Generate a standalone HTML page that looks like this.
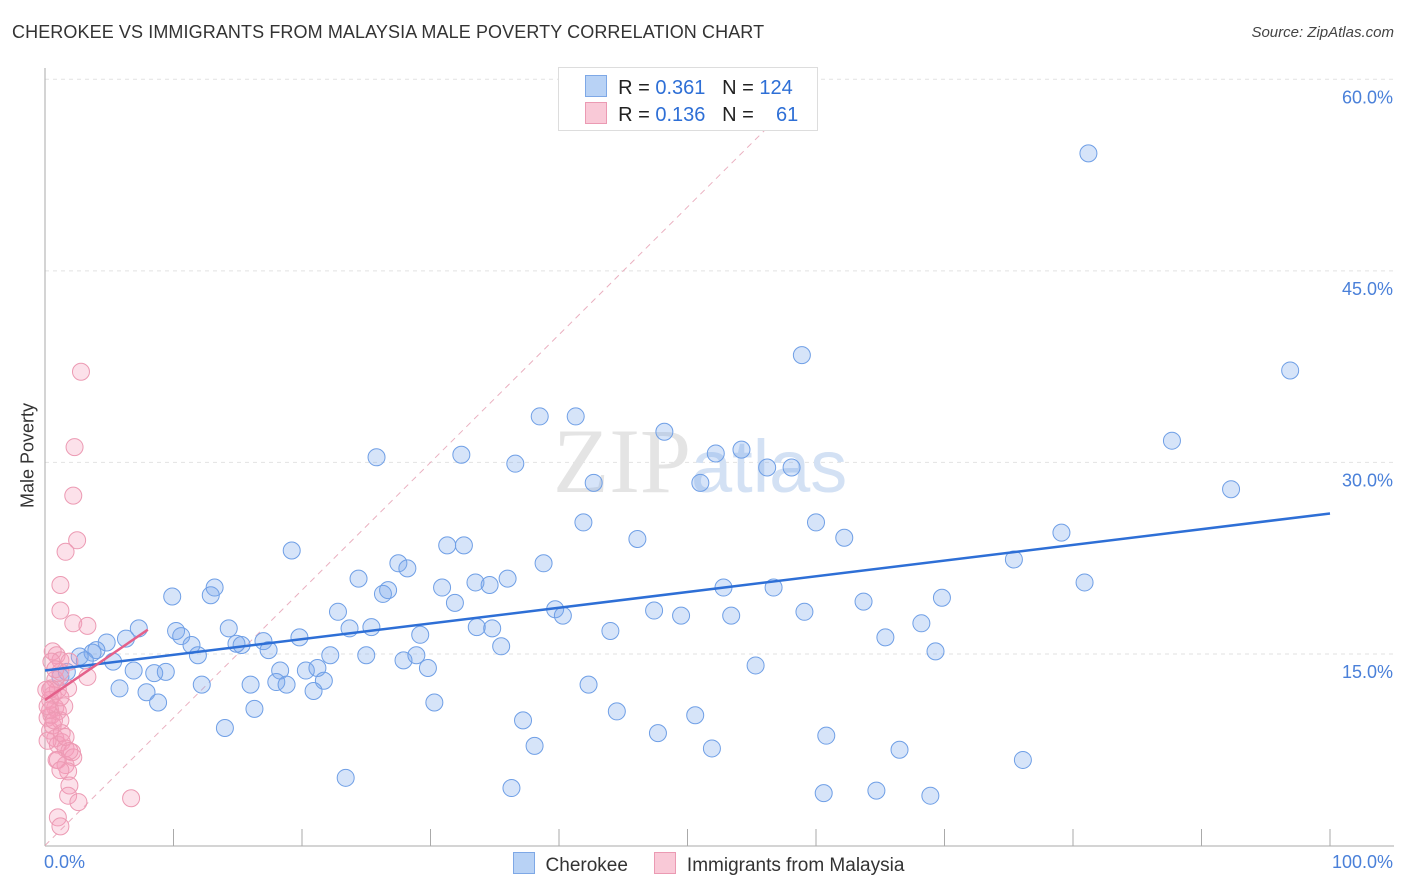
<!DOCTYPE html>
<html><head><meta charset="utf-8"><style>
body{margin:0;background:#fff;font-family:"Liberation Sans",sans-serif}
#wrap{position:relative;width:1406px;height:892px;overflow:hidden}
</style></head><body><div id="wrap">
<svg id="svg" width="1406" height="892" xmlns="http://www.w3.org/2000/svg"></svg>
</div>
<script>
const yTicks=[15,30,45,60];
const yTickLabels=["15.0%","30.0%","45.0%","60.0%"];
const blueX=[81.2,58.9,96.9,38.5,41.3,48.2,87.7,25.8,32.4,54.2,52.2,36.6,56.2,58.1,42.7,51.0,92.3,41.9,60.0,79.1,31.3,32.6,46.1,62.2,19.2,38.8,27.5,28.2,75.4,24.4,33.5,34.6,36.0,30.9,80.9,13.2,26.7,26.3,12.9,9.9,52.8,56.7,31.9,69.8,22.8,39.7,40.3,47.4,49.5,53.4,59.1,63.7,68.2,33.6,34.8,44.0,23.7,25.4,14.3,10.2,10.6,7.3,11.4,14.9,15.3,17.0,17.4,19.8,29.2,35.5,65.4,6.3,4.8,4.0,3.7,11.9,22.2,25.0,27.9,28.9,29.8,69.3,2.7,3.1,5.3,6.9,8.5,9.4,18.3,20.3,21.2,55.3,1.7,1.2,21.7,18.0,18.8,16.0,12.2,5.8,7.9,20.9,42.3,8.8,30.3,16.3,44.5,50.6,37.2,14.0,47.7,60.8,38.1,51.9,66.5,76.1,23.4,36.3,60.6,64.7,68.9];
const blueY=[54.2,38.4,37.2,33.6,33.6,32.4,31.7,30.4,30.6,31.0,30.7,29.9,29.6,29.6,28.4,28.4,27.9,25.3,25.3,24.5,23.5,23.5,24.0,24.1,23.1,22.1,22.1,21.7,22.4,20.9,20.6,20.4,20.9,20.2,20.6,20.2,20.0,19.7,19.6,19.5,20.2,20.2,19.0,19.4,18.3,18.5,18.0,18.4,18.0,18.0,18.3,19.1,17.4,17.1,17.0,16.8,17.0,17.1,17.0,16.8,16.4,17.0,15.7,15.8,15.7,16.0,15.3,16.3,16.5,15.6,16.3,16.2,15.9,15.3,15.1,14.9,14.9,14.9,14.5,14.9,13.9,15.2,14.8,14.5,14.4,13.7,13.5,13.6,13.7,13.7,13.9,14.1,13.6,13.2,12.9,12.8,12.6,12.6,12.6,12.3,12.0,12.1,12.6,11.2,11.2,10.7,10.5,10.2,9.8,9.2,8.8,8.6,7.8,7.6,7.5,6.7,5.3,4.5,4.1,4.3,3.9];
const pinkX=[2.8,2.3,2.2,2.5,1.6,1.2,1.2,2.2,3.3,0.6,0.9,1.2,1.9,3.3,1.2,0.8,0.5,0.6,1.0,1.8,0.4,0.8,0.5,1.0,1.2,0.2,0.6,0.8,1.3,1.0,1.6,2.1,2.2,1.0,1.6,0.9,1.8,1.9,1.8,2.6,1.0,1.2,6.7,0.4,0.4,0.5,0.8,0.4,0.2,1.3,1.6,1.9,1.2,0.1,0.2,0.7,1.5,1.2];
const pinkY=[37.1,31.2,27.4,23.9,23.0,20.4,18.4,17.4,17.2,15.2,14.9,14.5,14.4,13.2,13.6,13.0,12.3,11.8,12.2,12.3,11.4,10.8,10.2,10.5,9.8,10.0,9.4,8.4,8.1,7.9,7.6,7.3,6.9,6.7,6.3,6.7,5.8,4.7,3.9,3.4,2.2,1.5,3.7,9.0,10.6,14.4,13.8,12.2,8.2,8.8,8.5,7.4,5.9,12.2,10.9,9.8,10.9,11.6];
const blueTrend=[13.7,26.0];
const pinkTrend=[11.4,16.9,8];
const NS="http://www.w3.org/2000/svg";
const svg=document.getElementById('svg');
const X0=45,X1=1330,Y0=845.5,YPER=12.77;
const sx=v=>X0+(X1-X0)*v/100;
const sy=v=>Y0-v*YPER;
function el(t,a,p){const e=document.createElementNS(NS,t);for(const k in a)e.setAttribute(k,a[k]);(p||svg).appendChild(e);return e;}
yTicks.forEach((t,i)=>{
 const g=el('line',{x1:45,x2:1394,y1:sy(t),y2:sy(t),stroke:'#e2e2e2','stroke-dasharray':'4,4'});
 
 
 const tx=el('text',{x:1393,y:sy(t)+24,'text-anchor':'end','font-size':18,fill:'#4a80d9'});
 tx.textContent=yTickLabels[i];
 
 
});
const ax=el('line',{x1:45,x2:45,y1:68,y2:846,stroke:'#aaa'});


const bx=el('line',{x1:45,x2:1394,y1:846,y2:846,stroke:'#aaa'});


for(let i=1;i<=10;i++){const t=el('line',{x1:sx(i*10),x2:sx(i*10),y1:829,y2:846,stroke:'#aaa'});
 
 }
const wm=el('text',{x:553,y:492,'font-size':92,'font-family':'Liberation Serif,serif',fill:'#e4e4e4'});
wm.innerHTML='ZIP<tspan fill="#d3e1f4" font-family="Liberation Sans,sans-serif" font-size="74">atlas</tspan>';


const dg=el('line',{x1:sx(0),y1:sy(0),x2:sx(57),y2:sy(57),stroke:'#eab0c0','stroke-dasharray':'6,5','stroke-width':1});


function pts(xs,ys,fill,stroke,name){xs.forEach((x,i)=>{const c=el('circle',{cx:sx(x),cy:sy(ys[i]),r:8.5,fill:fill,stroke:stroke,'stroke-width':1});
 
 });}
pts(blueX,blueY,'rgba(120,165,235,0.3)','#6f9fe6','cherokee-point');
pts(pinkX,pinkY,'rgba(245,155,185,0.3)','#ec9ab3','malaysia-point');
const bl=el('line',{x1:sx(0),y1:sy(blueTrend[0]),x2:sx(100),y2:sy(blueTrend[1]),stroke:'#2e6fd6','stroke-width':2.5});


const pl=el('line',{x1:sx(0),y1:sy(pinkTrend[0]),x2:sx(pinkTrend[2]),y2:sy(pinkTrend[1]),stroke:'#e4608a','stroke-width':2.5});


</script>
<div style="position:absolute;left:12px;top:22px;font-size:18px;color:#333;letter-spacing:0.1px">CHEROKEE VS IMMIGRANTS FROM MALAYSIA MALE POVERTY CORRELATION CHART</div>
<div style="position:absolute;right:12px;top:24px;font-size:15px;color:#444;font-style:italic">Source: ZipAtlas.com</div>
<div style="position:absolute;left:-42px;top:445px;transform:rotate(-90deg);font-size:18px;color:#333;width:140px;text-align:center;white-space:nowrap">Male Poverty</div>
<div style="position:absolute;left:44px;top:852px;font-size:18px;color:#4a80d9">0.0%</div>
<div style="position:absolute;right:13px;top:852px;font-size:18px;color:#4a80d9">100.0%</div>
<div style="position:absolute;left:558px;top:67px;width:258px;height:62px;border:1px solid #ddd;background:#fff;font-size:20px;color:#222">
 <div style="position:absolute;left:26px;top:7px;white-space:pre"><span style="display:inline-block;width:20px;height:20px;background:#b8d2f5;border:1px solid #7ea8e6;vertical-align:-3px"></span>  R = <span style="color:#2e6fd6">0.361</span>   N = <span style="color:#2e6fd6">124</span></div>
 <div style="position:absolute;left:26px;top:34px;white-space:pre"><span style="display:inline-block;width:20px;height:20px;background:#f9c9d7;border:1px solid #eb9ab3;vertical-align:-3px"></span>  R = <span style="color:#2e6fd6">0.136</span>   N =    <span style="color:#2e6fd6">61</span></div>
</div>
<div style="position:absolute;left:513px;top:852px;font-size:19px;color:#333;white-space:pre"><span><span style="display:inline-block;width:20px;height:20px;background:#b8d2f5;border:1px solid #7ea8e6;vertical-align:-3px"></span>  Cherokee</span>     <span><span style="display:inline-block;width:20px;height:20px;background:#f9c9d7;border:1px solid #eb9ab3;vertical-align:-3px"></span>  Immigrants from Malaysia</span></div>
</body></html>
